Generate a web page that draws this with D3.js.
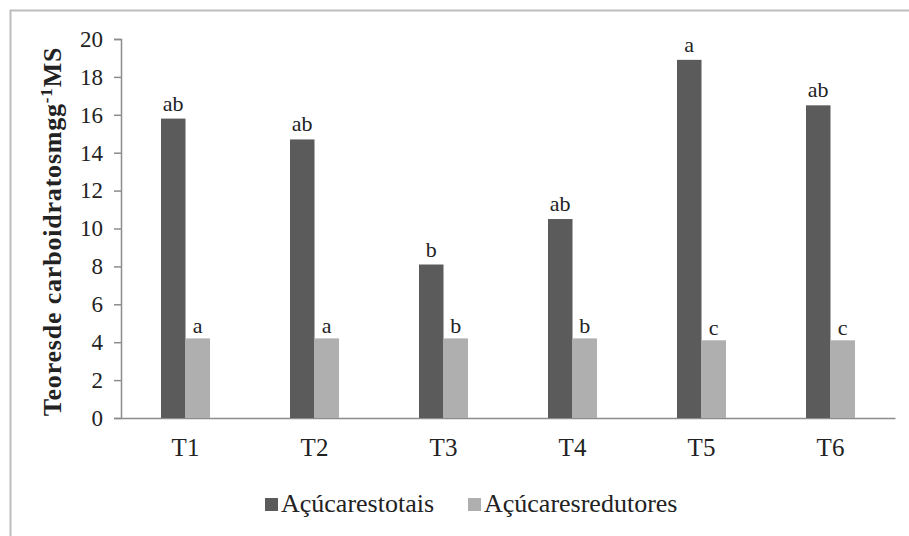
<!DOCTYPE html>
<html>
<head>
<meta charset="utf-8">
<script src="https://cdn.jsdelivr.net/npm/d3@7"></script>
<style>
  body { margin: 0; background: #fff; }
  text { font-family: "Liberation Serif", "DejaVu Serif", serif; fill: #222; }
</style>
</head>
<body>
<script>
var categories = ['T1', 'T2', 'T3', 'T4', 'T5', 'T6'],
	seriesNames = ['Açúcarestotais', 'Açúcaresredutores'],
	totais = [15.8, 14.7, 8.1, 10.5, 18.9, 16.5],
	redutores = [4.2, 4.2, 4.2, 4.2, 4.1, 4.1],
	totaisLetters = ['ab', 'ab', 'b', 'ab', 'a', 'ab'],
	redutoresLetters = ['a', 'a', 'b', 'b', 'c', 'c'],
	yTicks = [0, 2, 4, 6, 8, 10, 12, 14, 16, 18, 20];

var colors = ['#5b5b5b', '#afafaf'];
var width = 909, height = 536;

var svg = d3.select('body')
	.append('svg')
	.attr('width', width)
	.attr('height', height);

// outer frame of the picture
svg.append('rect')
	.attr('x', 10.5).attr('y', 10.5)
	.attr('width', width + 20).attr('height', height + 20)
	.attr('fill', 'none')
	.attr('stroke', '#bdbdbd')
	.attr('stroke-width', 2);

var plotLeft = 121, plotRight = 895, plotTop = 39, plotBottom = 418;

var x0 = d3.scaleBand()
	.domain(categories)
	.range([plotLeft, plotRight])
	.paddingInner(0.62)
	.paddingOuter(0.31);

var x1 = d3.scaleBand()
	.domain(seriesNames)
	.range([0, x0.bandwidth()]);

var y = d3.scaleLinear()
	.domain([0, 20])
	.range([plotBottom, plotTop]);

// y axis
var yAxis = d3.axisLeft(y)
	.tickValues(yTicks)
	.tickSize(7)
	.tickPadding(11);

var gy = svg.append('g')
	.attr('transform', 'translate(' + plotLeft + ',0)')
	.call(yAxis);
gy.select('.domain').attr('stroke', '#8c8c8c').attr('stroke-width', 1.5);
gy.selectAll('.tick line').attr('stroke', '#8c8c8c').attr('stroke-width', 1.5);
gy.selectAll('.tick text')
	.attr('font-size', 23)
	.attr('font-family', '"Liberation Serif", serif')
	.attr('fill', '#222');

// x axis line + labels
var xAxis = d3.axisBottom(x0).tickSize(0).tickPadding(20);
var gx = svg.append('g')
	.attr('transform', 'translate(0,' + plotBottom + ')')
	.call(xAxis);
gx.select('.domain').attr('stroke', '#8c8c8c').attr('stroke-width', 1.5);
gx.selectAll('.tick text')
	.attr('font-size', 25)
	.attr('font-family', '"Liberation Serif", serif')
	.attr('fill', '#222');

// bars
var data = categories.map(function(c, i) {
	return {cat: c, vals: [totais[i], redutores[i]], letters: [totaisLetters[i], redutoresLetters[i]]};
});

var groups = svg.append('g').selectAll('g')
	.data(data)
	.enter().append('g')
	.attr('transform', function(d) { return 'translate(' + x0(d.cat) + ',0)'; });

groups.selectAll('rect')
	.data(function(d) { return d.vals.map(function(v, j) { return {s: seriesNames[j], v: v, j: j}; }); })
	.enter().append('rect')
	.attr('x', function(d) { return x1(d.s); })
	.attr('y', function(d) { return y(d.v); })
	.attr('width', x1.bandwidth())
	.attr('height', function(d) { return plotBottom - y(d.v); })
	.attr('fill', function(d) { return colors[d.j]; });

// significance letters
groups.selectAll('text')
	.data(function(d) { return d.vals.map(function(v, j) { return {s: seriesNames[j], v: v, j: j, l: d.letters[j]}; }); })
	.enter().append('text')
	.attr('x', function(d) { return x1(d.s) + x1.bandwidth() / 2; })
	.attr('y', function(d) { return y(d.v) - (d.j === 0 ? 8 : 5); })
	.attr('text-anchor', 'middle')
	.attr('font-size', 22)
	.text(function(d) { return d.l; });

// y title
var title = svg.append('text')
	.attr('transform', 'translate(61,' + ((plotTop + plotBottom) / 2 + 3) + ') rotate(-90)')
	.attr('text-anchor', 'middle')
	.attr('font-size', 26)
	.attr('letter-spacing', 0.8)
	.attr('font-weight', 'bold');
title.append('tspan').text('Teoresde carboidratosmgg');
title.append('tspan').attr('font-size', 17).attr('dy', -9).text('-1');
title.append('tspan').attr('dy', 9).text('MS');

// legend
var legendX = [265, 468];
var legend = svg.append('g').selectAll('g')
	.data(seriesNames)
	.enter().append('g')
	.attr('transform', function(d, i) { return 'translate(' + legendX[i] + ',498)'; });
legend.append('rect')
	.attr('width', 13).attr('height', 13)
	.attr('fill', function(d, i) { return colors[i]; });
legend.append('text')
	.attr('x', 16).attr('y', 14)
	.attr('font-size', 26)
	.text(function(d) { return d; });
</script>
</body>
</html>
